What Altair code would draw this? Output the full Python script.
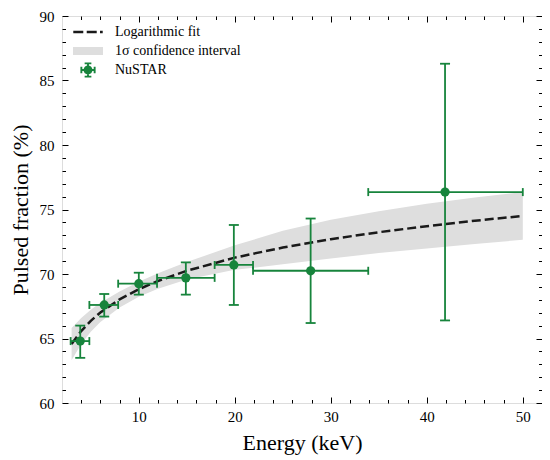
import altair as alt
import pandas as pd

# ---- data ----
energy = [3.9, 6.4, 10.0, 14.9, 19.9, 27.9, 41.9]
energy_low = [2.9, 4.85, 7.85, 11.9, 17.9, 21.9, 33.9]
energy_high = [4.85, 7.85, 11.9, 17.9, 21.9, 33.9, 50.0]
pulsed = [64.8, 67.6, 69.25, 69.7, 70.7, 70.25, 76.35]
pulsed_low = [63.5, 66.7, 68.4, 68.4, 67.6, 66.2, 66.4]
pulsed_high = [66.0, 68.45, 70.1, 70.9, 73.8, 74.3, 86.3]

fit_energy = [3, 4, 5, 6, 8, 10, 12, 15, 20, 25, 30, 35, 40, 45, 50]
fit_value = [64.57, 65.58, 66.37, 67.02, 68.03, 68.82, 69.46, 70.25, 71.27,
             72.05, 72.70, 73.24, 73.71, 74.13, 74.50]
band_low = [63.32, 64.58, 65.52, 66.27, 67.41, 68.24, 68.86, 69.57, 70.32,
            70.75, 71.20, 71.62, 71.97, 72.33, 72.65]
band_high = [65.82, 66.58, 67.22, 67.77, 68.65, 69.40, 70.06, 70.93, 72.22,
             73.35, 74.20, 74.86, 75.45, 75.93, 76.35]

x_major = [10, 20, 30, 40, 50]
x_minor = [4, 6, 8, 12, 14, 16, 18, 22, 24, 26, 28, 32, 34, 36, 38, 42, 44, 46, 48, 52]
y_major = [60, 65, 70, 75, 80, 85, 90]
y_minor = [v for v in range(61, 90) if v % 5 != 0]

legend_labels = ["Logarithmic fit", "1σ confidence interval", "NuSTAR"]

GREEN = "#17843c"
FONT = "Liberation Serif"

pts = pd.DataFrame(dict(e=energy, elo=energy_low, ehi=energy_high,
                        p=pulsed, plo=pulsed_low, phi=pulsed_high))
fit = pd.DataFrame(dict(e=fit_energy, f=fit_value, lo=band_low, hi=band_high))
vcaps = pd.DataFrame(dict(e=energy + energy, p=pulsed_low + pulsed_high))
hcaps = pd.DataFrame(dict(e=energy_low + energy_high, p=pulsed + pulsed))
leg = pd.DataFrame(dict(label=legend_labels))

xs = alt.Scale(domain=[2, 52], nice=False, zero=False)
ys = alt.Scale(domain=[60, 90], nice=False, zero=False)


def tick_axis(orient, values, size):
    return alt.Axis(orient=orient, values=values, ticks=True, tickSize=size,
                    offset=-size, labels=False, domain=False, grid=False,
                    title=None, tickColor="black", tickWidth=1)


# band layer carries the labelled axes
band = alt.Chart(fit).mark_area(color="#dedede", opacity=1).encode(
    x=alt.X("e:Q", scale=xs, axis=alt.Axis(
        orient="bottom", values=x_major, ticks=False, tickSize=0, domain=False,
        grid=False, labelPadding=6, title="Energy (keV)", titlePadding=8,
        labelFontSize=15, titleFontSize=22, labelFont=FONT, titleFont=FONT,
        titleFontWeight="normal", labelColor="black", titleColor="black")),
    y=alt.Y("lo:Q", scale=ys, axis=alt.Axis(
        orient="left", values=y_major, ticks=False, tickSize=0, domain=False,
        grid=False, labelPadding=8, title="Pulsed fraction (%)", titlePadding=7,
        labelFontSize=15, titleFontSize=22, labelFont=FONT, titleFont=FONT,
        titleFontWeight="normal", labelColor="black", titleColor="black")),
    y2="hi:Q",
)

line = alt.Chart(fit).mark_line(color="#1a1a1a", strokeWidth=2.5,
                                strokeDash=[9, 4]).encode(
    x=alt.X("e:Q", scale=xs, axis=tick_axis("bottom", x_major, 6)),
    y=alt.Y("f:Q", scale=ys, axis=tick_axis("left", y_major, 6)),
)

vbars = alt.Chart(pts).mark_rule(color=GREEN, strokeWidth=1.8).encode(
    x=alt.X("e:Q", scale=xs, axis=tick_axis("bottom", x_minor, 3.5)),
    y=alt.Y("plo:Q", scale=ys, axis=tick_axis("left", y_minor, 3.5)),
    y2="phi:Q",
)

hbars = alt.Chart(pts).mark_rule(color=GREEN, strokeWidth=1.8).encode(
    x=alt.X("elo:Q", scale=xs, axis=tick_axis("top", x_major, 6)),
    x2="ehi:Q",
    y=alt.Y("p:Q", scale=ys, axis=tick_axis("right", y_major, 6)),
)

dots = alt.Chart(pts).mark_circle(color=GREEN, size=85, opacity=1).encode(
    x=alt.X("e:Q", scale=xs, axis=tick_axis("top", x_minor, 3.5)),
    y=alt.Y("p:Q", scale=ys, axis=tick_axis("right", y_minor, 3.5)),
)

vcap = alt.Chart(vcaps).mark_tick(color=GREEN, orient="horizontal", size=10,
                                  thickness=1.8, opacity=1).encode(
    x=alt.X("e:Q", scale=xs, axis=None),
    y=alt.Y("p:Q", scale=ys, axis=None),
)

hcap = alt.Chart(hcaps).mark_tick(color=GREEN, orient="vertical", size=8,
                                  thickness=1.8, opacity=1).encode(
    x=alt.X("e:Q", scale=xs, axis=None),
    y=alt.Y("p:Q", scale=ys, axis=None),
)

dash_path = ("M-1.84,-0.16H-0.59V0.16H-1.84Z M-0.16,-0.16H1.09V0.16H-0.16Z "
             "M1.5,-0.16H1.84V0.16H1.5Z")
rect_path = "M-1.875,-0.5H1.875V0.5H-1.875Z"
nustar_path = ("M0.56,0A0.56,0.56 0 1,1 -0.56,0A0.56,0.56 0 1,1 0.56,0Z "
               "M-0.83,-0.12H0.83V0.12H-0.83Z M-0.12,-0.83H0.12V0.83H-0.12Z "
               "M-0.95,-0.42H-0.71V0.42H-0.95Z M0.71,-0.42H0.95V0.42H0.71Z "
               "M-0.42,-0.95H0.42V-0.71H-0.42Z M-0.42,0.71H0.42V0.95H-0.42Z")

legend_def = alt.Legend(title=None, orient="none", legendX=18, legendY=8,
                        symbolSize=256, symbolStrokeWidth=0, symbolOpacity=1,
                        labelFont=FONT, labelFontSize=14, labelColor="black",
                        labelOffset=19, rowPadding=4, padding=0)

legend_layer = alt.Chart(leg).mark_point(filled=True, opacity=0).encode(
    shape=alt.Shape("label:N", scale=alt.Scale(
        domain=legend_labels, range=[dash_path, rect_path, nustar_path]),
        legend=legend_def),
    color=alt.Color("label:N", scale=alt.Scale(
        domain=legend_labels, range=["#1a1a1a", "#dedede", GREEN]),
        legend=legend_def),
)

chart = alt.layer(band, line, vbars, hbars, vcap, hcap, dots, legend_layer).resolve_axis(
    x="independent", y="independent"
).properties(
    width=480, height=387,
    padding={"left": 54, "top": 8, "right": 0, "bottom": 57},
    autosize=alt.AutoSizeParams(type="none"),
).configure_view(stroke="black", strokeWidth=1.2).configure_axis(
    titleFontWeight="normal", titleFont=FONT, labelFont=FONT
).configure(font=FONT)

chart.save("out.html", embed_options={"renderer": "svg", "actions": False})
